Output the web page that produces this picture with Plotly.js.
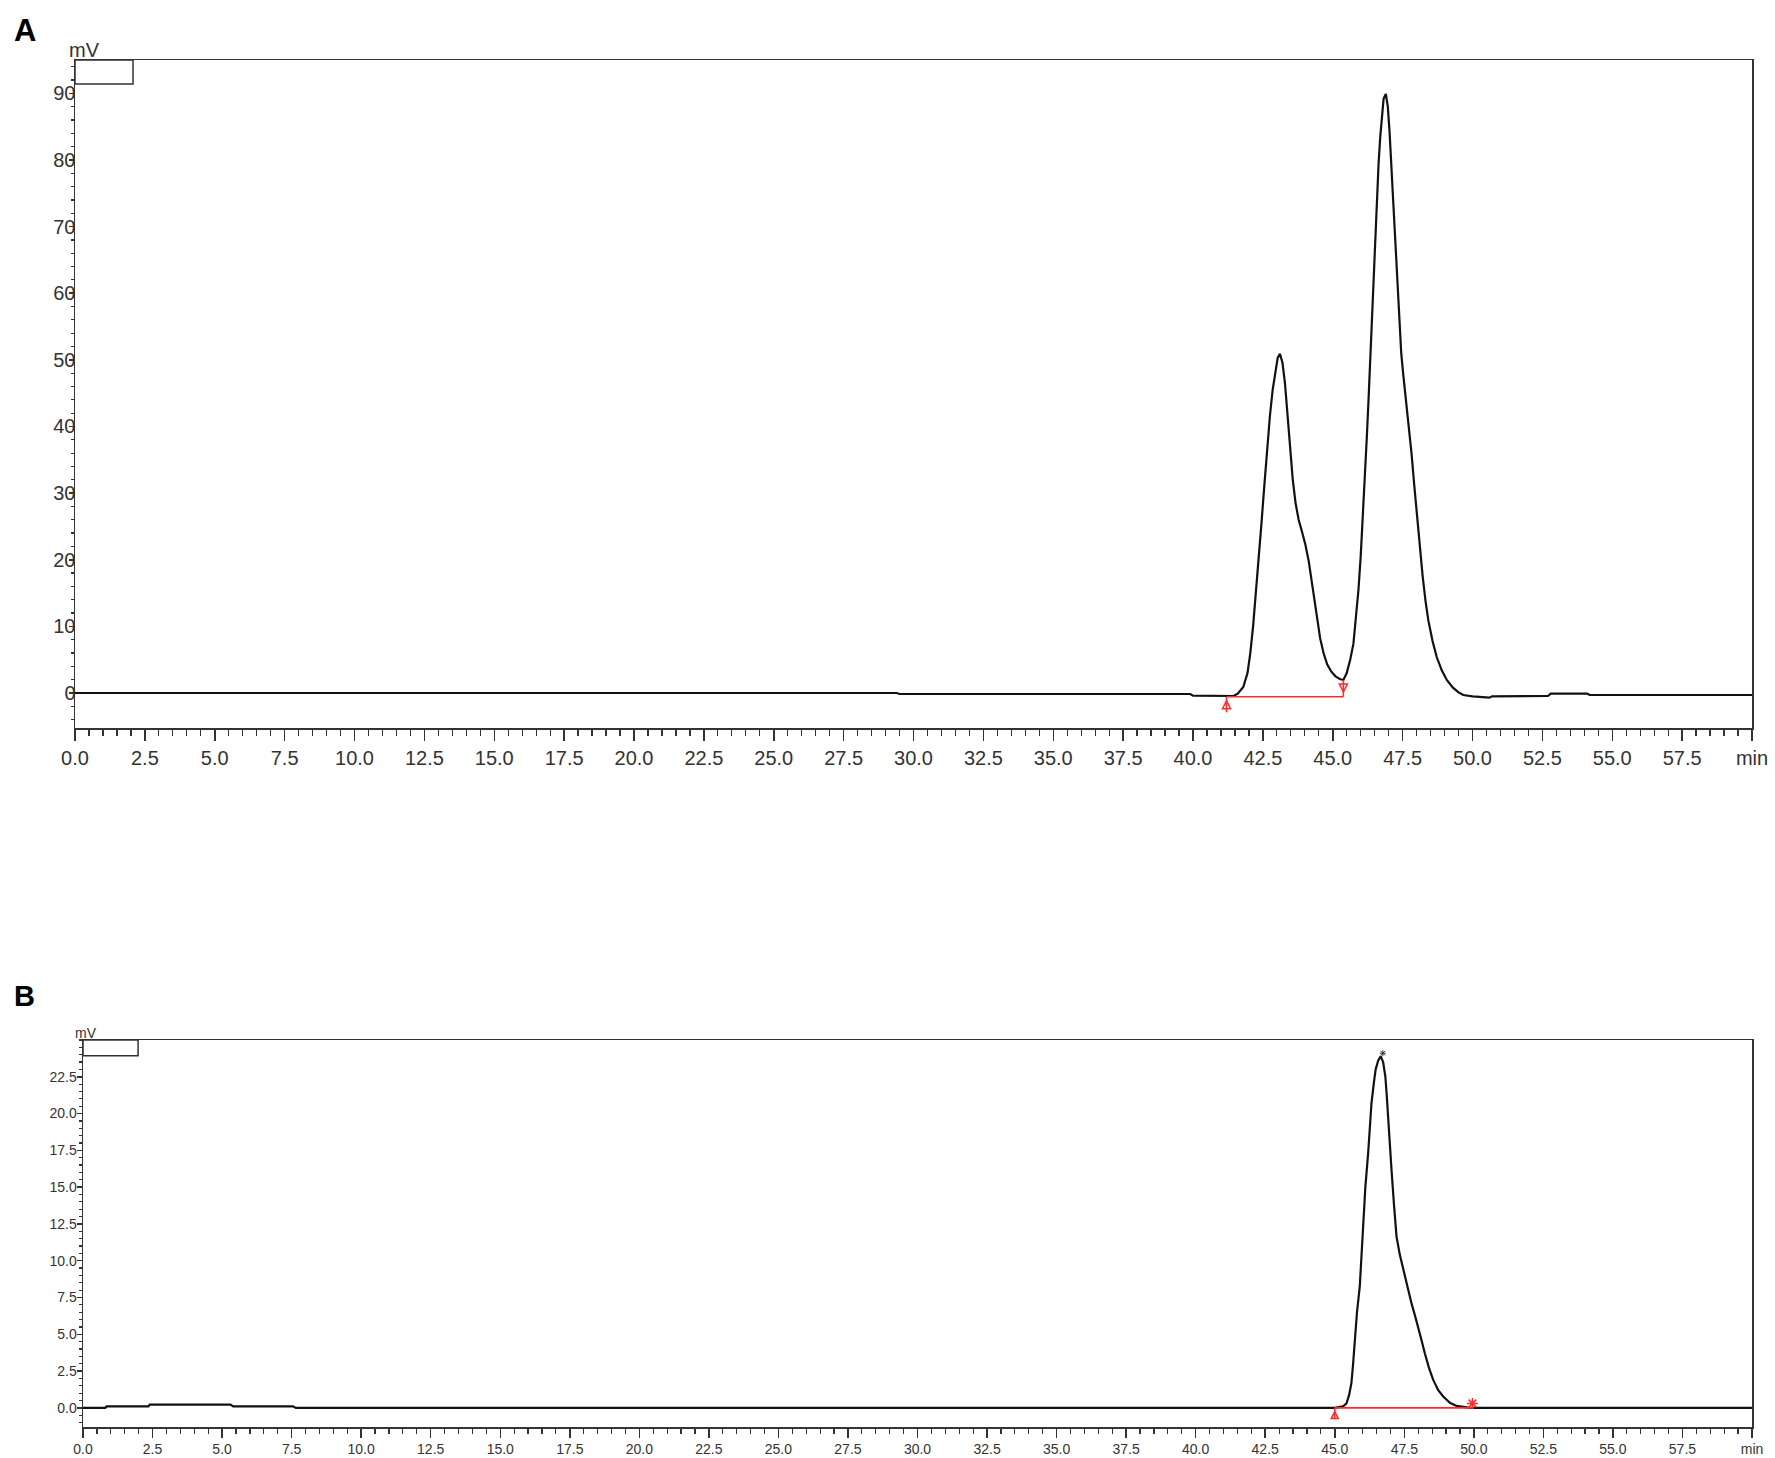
<!DOCTYPE html>
<html>
<head>
<meta charset="utf-8">
<script src="https://cdn.plot.ly/plotly-3.0.1.min.js"></script>
<style>
  html, body { margin: 0; padding: 0; background: #ffffff; }
  #chart { width: 1775px; height: 1458px; }
</style>
</head>
<body>
<div id="chart"></div>
<script>
// ---------- Panel A chromatogram (time in min, signal in mV) ----------
const timeA = [0, 29.4, 29.5, 39.9, 40.0, 41.2, 41.45, 41.6, 41.8, 41.95, 42.05, 42.15, 42.25, 42.35, 42.45, 42.55, 42.65, 42.75, 42.85, 42.95, 43.03, 43.11, 43.2, 43.29, 43.38, 43.47, 43.57, 43.67, 43.78, 43.9, 44.02, 44.14, 44.25, 44.35, 44.45, 44.55, 44.67, 44.8, 44.95, 45.1, 45.25, 45.38, 45.5, 45.62, 45.74, 45.83, 45.92, 46.0, 46.08, 46.16, 46.22, 46.28, 46.34, 46.4, 46.46, 46.52, 46.58, 46.64, 46.7, 46.76, 46.82, 46.9, 46.97, 47.03, 47.09, 47.15, 47.21, 47.27, 47.33, 47.39, 47.45, 47.52, 47.58, 47.64, 47.73, 47.82, 47.92, 48.03, 48.12, 48.22, 48.32, 48.42, 48.57, 48.72, 48.9, 49.08, 49.3, 49.5, 49.67, 50.0, 50.6, 50.7, 52.7, 52.8, 54.1, 54.2, 60];
const signalA = [0, 0, -0.15, -0.15, -0.4, -0.5, -0.45, -0.1, 0.9, 3.0, 6.0, 10.0, 14.8, 20.0, 25.5, 31.0, 36.5, 41.5, 45.5, 48.5, 50.3, 50.9, 49.6, 46.5, 41.5, 36.5, 32.0, 28.5, 26.0, 24.2, 22.3, 19.8, 16.8, 13.8, 10.8, 8.2, 6.0, 4.3, 3.2, 2.5, 2.1, 1.95, 3.0, 4.9, 7.4, 11.0, 15.5, 20.5, 26.5, 33.0, 38.5, 44.0, 50.0, 56.5, 63.0, 69.0, 74.5, 79.5, 83.5, 87.0, 89.2, 89.9, 88.0, 84.4, 79.5, 74.4, 69.0, 63.9, 59.0, 54.6, 51.0, 47.9, 45.5, 43.4, 39.8, 35.9, 31.0, 25.9, 21.5, 17.4, 13.8, 10.9, 7.8, 5.4, 3.4, 1.95, 0.8, 0.1, -0.3, -0.5, -0.7, -0.5, -0.45, -0.1, -0.1, -0.3, -0.3];

// Panel A integration baseline and markers
const baseA_x = [41.2, 45.38];
const baseA_y = [-0.55, -0.55];
const dropA_x = [45.38, 45.38];
const dropA_y = [1.95, -0.55];
const startA_x = [41.2, 41.2];
const startA_y = [-0.55, -2.9];

// ---------- Panel B chromatogram ----------
const timeB = [0, 0.8, 0.85, 2.35, 2.4, 5.3, 5.4, 7.55, 7.65, 45.0, 45.3, 45.42, 45.52, 45.6, 45.66, 45.72, 45.8, 45.9, 45.96, 46.02, 46.1, 46.2, 46.26, 46.32, 46.4, 46.47, 46.56, 46.65, 46.74, 46.82, 46.87, 46.92, 46.98, 47.04, 47.13, 47.22, 47.34, 47.46, 47.61, 47.76, 47.88, 48.0, 48.12, 48.24, 48.39, 48.54, 48.72, 48.9, 49.14, 49.38, 49.86, 60];
const signalB = [0, 0, 0.1, 0.1, 0.22, 0.22, 0.1, 0.1, 0.0, 0.0, 0.1, 0.3, 0.9, 1.7, 3.0, 4.85, 6.5, 8.25, 10.5, 12.8, 15, 17.3, 19, 20.7, 22, 23.0, 23.6, 23.9, 23.5, 22.5, 21.2, 19.6, 17.9, 16.2, 13.8, 11.65, 10.4, 9.4, 8.2, 7.1, 6.3, 5.5, 4.6, 3.7, 2.7, 1.9, 1.2, 0.77, 0.35, 0.13, 0.0, 0.0];

const baseB_x = [45.0, 50.0];
const baseB_y = [0.0, 0.0];
const startB_x = [45.0, 45.0];
const startB_y = [0.0, -0.75];
const endB_x = [49.95];
const endB_y = [0.3];

// ---------- Tick labels ----------
const xTickVals = [0, 2.5, 5, 7.5, 10, 12.5, 15, 17.5, 20, 22.5, 25, 27.5, 30, 32.5, 35, 37.5, 40, 42.5, 45, 47.5, 50, 52.5, 55, 57.5, 60];
const xTickText = ['0.0', '2.5', '5.0', '7.5', '10.0', '12.5', '15.0', '17.5', '20.0', '22.5', '25.0', '27.5', '30.0', '32.5', '35.0', '37.5', '40.0', '42.5', '45.0', '47.5', '50.0', '52.5', '55.0', '57.5', 'min'];
const yTickValsA = [0, 10, 20, 30, 40, 50, 60, 70, 80, 90];
const yTickTextA = ['0', '10', '20', '30', '40', '50', '60', '70', '80', '90'];
const yTickValsB = [0, 2.5, 5, 7.5, 10, 12.5, 15, 17.5, 20, 22.5];
const yTickTextB = ['0.0', '2.5', '5.0', '7.5', '10.0', '12.5', '15.0', '17.5', '20.0', '22.5'];

// ---------- Build ----------
const W = 1775, H = 1458;
const red = '#ff2a2a';
const axisCol = '#333333';
const font = 'Liberation Sans, Arial, sans-serif';

// Apex of panel B (for the small peak mark)
let iMax = 0;
for (let i = 0; i < signalB.length; i++) if (signalB[i] > signalB[iMax]) iMax = i;

const traces = [
  { x: timeA, y: signalA, xaxis: 'x', yaxis: 'y', mode: 'lines', line: { color: '#111', width: 2.2 }, hoverinfo: 'skip' },
  { x: baseA_x, y: baseA_y, xaxis: 'x', yaxis: 'y', mode: 'lines', line: { color: red, width: 1.6 }, hoverinfo: 'skip' },
  { x: dropA_x, y: dropA_y, xaxis: 'x', yaxis: 'y', mode: 'lines', line: { color: red, width: 1.6 }, hoverinfo: 'skip' },
  { x: startA_x, y: startA_y, xaxis: 'x', yaxis: 'y', mode: 'lines', line: { color: red, width: 1.6 }, hoverinfo: 'skip' },
  { x: [startA_x[0]], y: [startA_y[0] - 0.6], xaxis: 'x', yaxis: 'y', mode: 'markers',
    marker: { symbol: 'arrow-up-open', size: 8, color: red, line: { color: red, width: 1.5 } }, hoverinfo: 'skip' },
  { x: [dropA_x[1]], y: [dropA_y[1] + 0.7], xaxis: 'x', yaxis: 'y', mode: 'markers',
    marker: { symbol: 'arrow-down-open', size: 8, color: red, line: { color: red, width: 1.5 } }, hoverinfo: 'skip' },

  { x: timeB, y: signalB, xaxis: 'x2', yaxis: 'y2', mode: 'lines', line: { color: '#111', width: 2.2 }, hoverinfo: 'skip' },
  { x: baseB_x, y: baseB_y, xaxis: 'x2', yaxis: 'y2', mode: 'lines', line: { color: red, width: 1.6 }, hoverinfo: 'skip' },
  { x: startB_x, y: startB_y, xaxis: 'x2', yaxis: 'y2', mode: 'lines', line: { color: red, width: 1.6 }, hoverinfo: 'skip' },
  { x: [startB_x[0]], y: [startB_y[0] - 0.25], xaxis: 'x2', yaxis: 'y2', mode: 'markers',
    marker: { symbol: 'arrow-up-open', size: 7, color: red, line: { color: red, width: 1.5 } }, hoverinfo: 'skip' },
  { x: endB_x, y: endB_y, xaxis: 'x2', yaxis: 'y2', mode: 'markers',
    marker: { symbol: 'asterisk-open', size: 9, color: red, line: { color: red, width: 1.5 } }, hoverinfo: 'skip' },
  { x: [timeB[iMax] + 0.08], y: [signalB[iMax] + 0.2], xaxis: 'x2', yaxis: 'y2', mode: 'markers',
    marker: { symbol: 'asterisk-open', size: 5, color: '#333', line: { color: '#333', width: 1 } }, hoverinfo: 'skip' }
];

function xAxis(domain, anchor, fs, tl, mtl) {
  return {
    domain: domain, anchor: anchor, range: [0, 60],
    showline: true, mirror: true, linecolor: axisCol, linewidth: 1.5,
    showgrid: false, zeroline: false,
    tickmode: 'array', tickvals: xTickVals, ticktext: xTickText,
    ticks: 'outside', ticklen: tl, tickwidth: 1.5, tickcolor: axisCol,
    tickfont: { family: font, size: fs, color: axisCol },
    minor: { tick0: 0, dtick: 0.5, ticks: 'outside', ticklen: mtl, tickwidth: 1.2, tickcolor: axisCol, showgrid: false },
    fixedrange: true
  };
}
function yAxis(domain, anchor, range, vals, text, mdt, fs, tl, mtl, standoff) {
  return {
    domain: domain, anchor: anchor, range: range,
    showline: true, mirror: true, linecolor: axisCol, linewidth: 1.5,
    showgrid: false, zeroline: false,
    tickmode: 'array', tickvals: vals, ticktext: text,
    ticks: 'outside', ticklen: tl, tickwidth: 1.5, tickcolor: axisCol,
    ticklabelstandoff: standoff,
    tickfont: { family: font, size: fs, color: axisCol },
    minor: { tick0: 0, dtick: mdt, ticks: 'outside', ticklen: mtl, tickwidth: 1.2, tickcolor: axisCol, showgrid: false },
    fixedrange: true
  };
}

const layout = {
  width: W, height: H,
  margin: { l: 0, r: 0, t: 0, b: 0 },
  paper_bgcolor: '#ffffff', plot_bgcolor: '#ffffff',
  showlegend: false,
  xaxis: xAxis([75 / W, 1752 / W], 'y', 20, 11, 6),
  yaxis: yAxis([(H - 728) / H, (H - 60) / H], 'x', [-5.25, 95], yTickValsA, yTickTextA, 2, 20, 5, 3, -11),
  xaxis2: xAxis([83 / W, 1752 / W], 'y2', 14, 9, 5),
  yaxis2: yAxis([31 / H, 418 / H], 'x2', [-1.3, 25], yTickValsB, yTickTextB, 0.5, 14, 5, 3, -3),
  shapes: [
    { type: 'rect', xref: 'x domain', yref: 'y domain', x0: 0, x1: 0.0346, y0: 0.964, y1: 1,
      line: { color: axisCol, width: 1.5 }, fillcolor: 'rgba(0,0,0,0)' },
    { type: 'rect', xref: 'x2 domain', yref: 'y2 domain', x0: 0, x1: 0.033, y0: 0.959, y1: 1,
      line: { color: axisCol, width: 1.5 }, fillcolor: 'rgba(0,0,0,0)' }
  ],
  annotations: [
    { text: '<b>A</b>', xref: 'paper', yref: 'paper', x: 12 / W, y: 1 - 11 / H, xanchor: 'left', yanchor: 'top',
      showarrow: false, font: { family: font, size: 31, color: '#000' } },
    { text: '<b>B</b>', xref: 'paper', yref: 'paper', x: 12 / W, y: 1 - 978 / H, xanchor: 'left', yanchor: 'top',
      showarrow: false, font: { family: font, size: 29, color: '#000' } },
    { text: 'mV', xref: 'paper', yref: 'paper', x: 84 / W, y: 1 - 50 / H, xanchor: 'center', yanchor: 'middle',
      showarrow: false, font: { family: font, size: 20, color: axisCol } },
    { text: 'mV', xref: 'paper', yref: 'paper', x: 86 / W, y: 1 - 1033 / H, xanchor: 'center', yanchor: 'middle',
      showarrow: false, font: { family: font, size: 14, color: axisCol } }
  ]
};

Plotly.newPlot('chart', traces, layout, { staticPlot: true, displayModeBar: false });
</script>
</body>
</html>
